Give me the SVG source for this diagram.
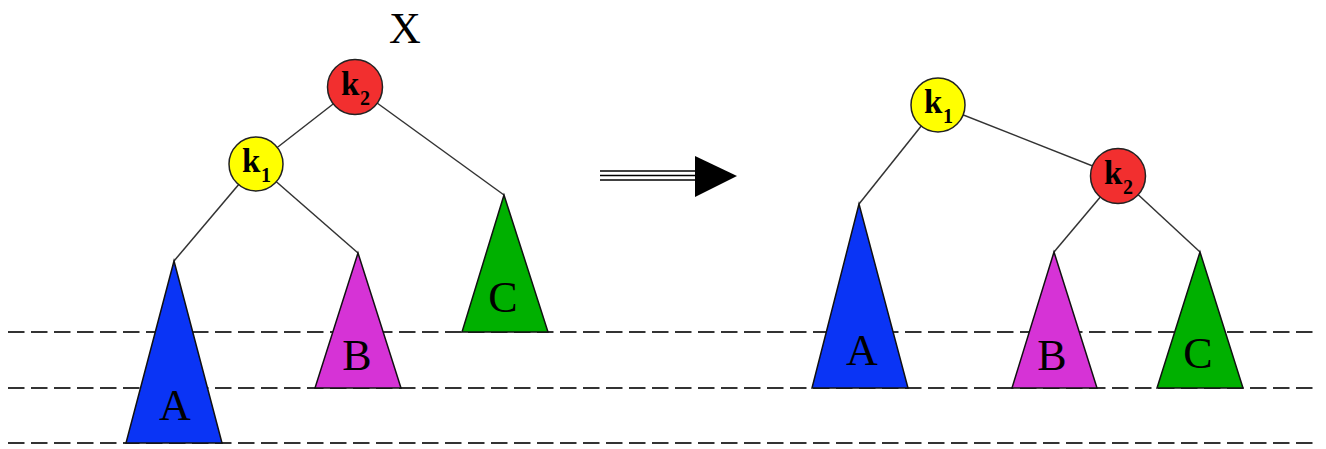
<svg xmlns="http://www.w3.org/2000/svg" width="1326" height="449" viewBox="0 0 1326 449">
<style>
.dash{stroke:#333;stroke-width:2;stroke-dasharray:16.5 6.5;fill:none}
.edge{stroke:#333;stroke-width:1.5;fill:none}
.tri{stroke:#111;stroke-width:1.5;stroke-linejoin:miter}
.node{stroke:#222;stroke-width:1.5}
.lbl{font-family:"Liberation Serif",serif;font-size:44px;fill:#000;text-anchor:middle}
.k{font-family:"Liberation Serif",serif;font-weight:bold;font-size:33px;fill:#000}
.sub{font-family:"Liberation Serif",serif;font-weight:bold;font-size:20px;fill:#000}
</style>
<rect width="1326" height="449" fill="#fff"/>
<g id="levels">
<line class="dash" x1="8" y1="332" x2="1313" y2="332"/>
<line class="dash" x1="8" y1="388" x2="1313" y2="388"/>
<line class="dash" x1="8" y1="443" x2="1313" y2="443"/>
</g>
<g id="connectors">
<line class="edge" x1="355" y1="87" x2="256" y2="164"/>
<line class="edge" x1="355" y1="87" x2="504" y2="195"/>
<line class="edge" x1="256" y1="164" x2="174" y2="261"/>
<line class="edge" x1="256" y1="164" x2="358" y2="253"/>
<line class="edge" x1="938" y1="105" x2="859" y2="204"/>
<line class="edge" x1="938" y1="105" x2="1118" y2="176"/>
<line class="edge" x1="1118" y1="176" x2="1054" y2="252"/>
<line class="edge" x1="1118" y1="176" x2="1200" y2="252"/>
</g>
<g id="X"><text class="lbl" x="405" y="43">X</text></g>
<g id="left-k2"><circle class="node" cx="355" cy="87" r="27.5" fill="#f22f2f"/><text class="k" x="341" y="95">k</text><text class="sub" x="360" y="105">2</text></g>
<g id="left-k1"><circle class="node" cx="256" cy="164" r="27" fill="#ffff00"/><text class="k" x="242" y="172">k</text><text class="sub" x="261" y="182">1</text></g>
<g id="left-A"><polygon class="tri" points="174,261 126,443 222,443" fill="#0a34f5"/><text class="lbl" x="175" y="420">A</text></g>
<g id="left-B"><polygon class="tri" points="358,253 315,388 401,388" fill="#d633d6"/><text class="lbl" x="357" y="370">B</text></g>
<g id="left-C"><polygon class="tri" points="504,195 462,332 548,332" fill="#00b000"/><text class="lbl" x="503" y="312">C</text></g>
<g id="arrow">
<line x1="600" y1="171" x2="697" y2="171" stroke="#000" stroke-width="1.5"/>
<line x1="600" y1="175.5" x2="697" y2="175.5" stroke="#000" stroke-width="1.5"/>
<line x1="600" y1="180" x2="697" y2="180" stroke="#000" stroke-width="1.5"/>
<polygon points="695,156 737,176 695,197" fill="#000"/>
</g>
<g id="right-k1"><circle class="node" cx="938" cy="105" r="27" fill="#ffff00"/><text class="k" x="924" y="113">k</text><text class="sub" x="943" y="123">1</text></g>
<g id="right-k2"><circle class="node" cx="1118" cy="176" r="27.5" fill="#f22f2f"/><text class="k" x="1104" y="184">k</text><text class="sub" x="1123" y="194">2</text></g>
<g id="right-A"><polygon class="tri" points="859,204 812,388 908,388" fill="#0a34f5"/><text class="lbl" x="862" y="365">A</text></g>
<g id="right-B"><polygon class="tri" points="1054,252 1012,388 1097,388" fill="#d633d6"/><text class="lbl" x="1052" y="370">B</text></g>
<g id="right-C"><polygon class="tri" points="1200,252 1157,388 1243,388" fill="#00b000"/><text class="lbl" x="1198" y="368">C</text></g>
</svg>
